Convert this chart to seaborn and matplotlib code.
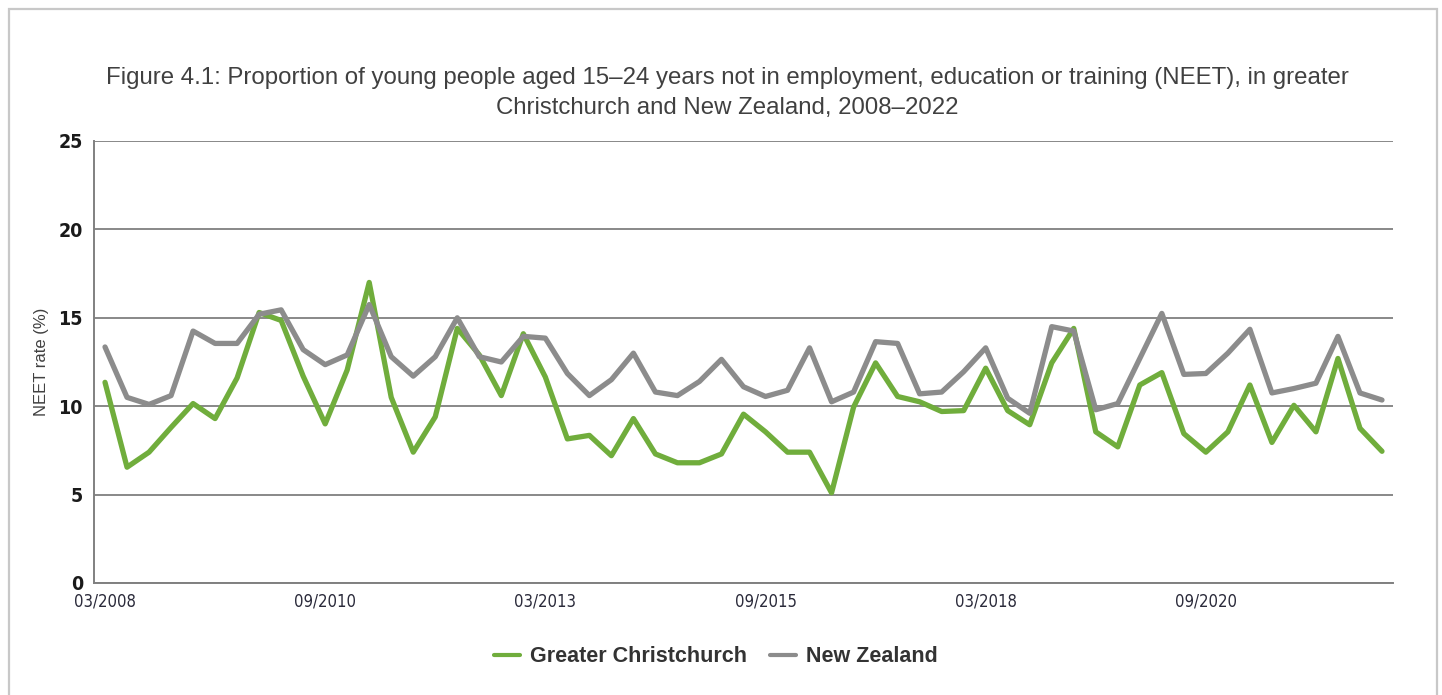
import matplotlib
matplotlib.use("Agg")
import matplotlib.pyplot as plt
import seaborn as sns
import pandas as pd
from matplotlib.patches import Rectangle

# ---- data ----
quarters = [f"{m:02d}/{y}" for y in range(2008, 2023) for m in (3, 6, 9, 12)][:59]

christchurch = [11.35, 6.55, 7.4, 8.8, 10.15, 9.3, 11.6, 15.3, 14.85, 11.7,
                9.0, 12.05, 17.0, 10.5, 7.4, 9.4, 14.4, 12.9, 10.6, 14.1,
                11.65, 8.15, 8.35, 7.2, 9.3, 7.3, 6.8, 6.8, 7.3, 9.55,
                8.55, 7.4, 7.4, 5.1, 9.95, 12.45, 10.55, 10.25, 9.7, 9.75,
                12.15, 9.75, 8.95, 12.45, 14.4, 8.55, 7.7, 11.2, 11.9, 8.45,
                7.4, 8.55, 11.2, 7.95, 10.05, 8.55, 12.7, 8.75, 7.45]

new_zealand = [13.35, 10.5, 10.1, 10.6, 14.25, 13.55, 13.55, 15.2, 15.45, 13.2,
               12.35, 12.9, 15.75, 12.8, 11.7, 12.8, 15.0, 12.8, 12.5, 13.95,
               13.85, 11.85, 10.6, 11.5, 13.0, 10.8, 10.6, 11.4, 12.65, 11.1,
               10.55, 10.9, 13.3, 10.25, 10.8, 13.65, 13.55, 10.7, 10.8, 11.95,
               13.3, 10.45, 9.6, 14.5, 14.25, 9.8, 10.15, 12.7, 15.25, 11.8,
               11.85, 13.0, 14.35, 10.75, 11.0, 11.3, 13.95, 10.75, 10.35]

series_names = ["Greater Christchurch", "New Zealand"]
tick_labels = ["03/2008", "09/2010", "03/2013", "09/2015", "03/2018", "09/2020"]
y_ticks = [0, 5, 10, 15, 20, 25]

title = ("Figure 4.1: Proportion of young people aged 15\u201324 years not in employment, "
         "education or training (NEET), in greater\nChristchurch and New Zealand, 2008\u20132022")

df = pd.DataFrame({
    "quarter": quarters * 2,
    "rate": christchurch + new_zealand,
    "series": [series_names[0]] * len(quarters) + [series_names[1]] * len(quarters),
})

# ---- plot ----
sns.set_theme(style="white")
plt.rcParams["font.family"] = ["Liberation Sans", "DejaVu Sans"]

W, H = 1442, 695
fig = plt.figure(figsize=(W / 100, H / 100), dpi=100)
ax = fig.add_axes([94 / W, 1 - 583 / H, (1393 - 94) / W, (583 - 141) / H])

palette = {series_names[0]: "#70ad3c", series_names[1]: "#8c8c8c"}
sns.lineplot(data=df, x="quarter", y="rate", hue="series", palette=palette,
             linewidth=3.8, ax=ax, sort=False, legend=True)

ax.set_xlim(-0.5, 58.5)
ax.set_ylim(0, 25)
ax.set_yticks(y_ticks)
ax.yaxis.grid(True, color="#7f7f7f", linewidth=1.3)
ax.xaxis.grid(False)
ax.set_axisbelow(True)

tick_pos = [quarters.index(t) for t in tick_labels]
ax.set_xticks(tick_pos)
ax.set_xticklabels(tick_labels)

for s in ["top", "right"]:
    ax.spines[s].set_visible(False)
for s in ["left", "bottom"]:
    ax.spines[s].set_color("#808080")
    ax.spines[s].set_linewidth(1.4)

ax.tick_params(axis="y", which="major", direction="out", length=6, width=1.2,
               color="#808080", pad=2, labelsize=14, labelcolor="#1a1a1a")
ax.tick_params(axis="x", which="major", direction="out", length=5, width=1.2,
               color="#808080", pad=2, labelsize=12, labelcolor="#2a2a3a")
for lab in ax.get_yticklabels():
    lab.set_fontfamily(["DejaVu Sans"])
    lab.set_fontstretch("condensed")
    lab.set_fontweight("semibold")
for lab in ax.get_xticklabels():
    lab.set_fontfamily(["DejaVu Sans"])
    lab.set_fontstretch("condensed")

ax.set_xlabel("")
ax.set_ylabel("NEET rate (%)", fontsize=12, color="#404040", labelpad=7)

fig.text(727 / W, 1 - 93 / H, title, ha="center", va="center", fontsize=17.3,
         color="#404040", linespacing=1.42)

handles, labels = ax.get_legend_handles_labels()
ax.get_legend().remove()
leg = fig.legend(handles, labels, loc="center", bbox_to_anchor=(716 / W, 1 - 657 / H),
                 ncol=2, frameon=False, handlelength=1.2, handletextpad=0.45,
                 columnspacing=1.1, prop={"weight": "bold", "size": 15.5})
for t in leg.get_texts():
    t.set_color("#333333")
for l in leg.get_lines():
    l.set_linewidth(3.0)

fig.patches.append(Rectangle((9 / W, -0.05), (1437 - 9) / W, 1.05 - 9 / H,
                             transform=fig.transFigure, fill=False,
                             edgecolor="#c8c8c8", linewidth=1.6))

fig.savefig("out.png", dpi=100, facecolor="white")
